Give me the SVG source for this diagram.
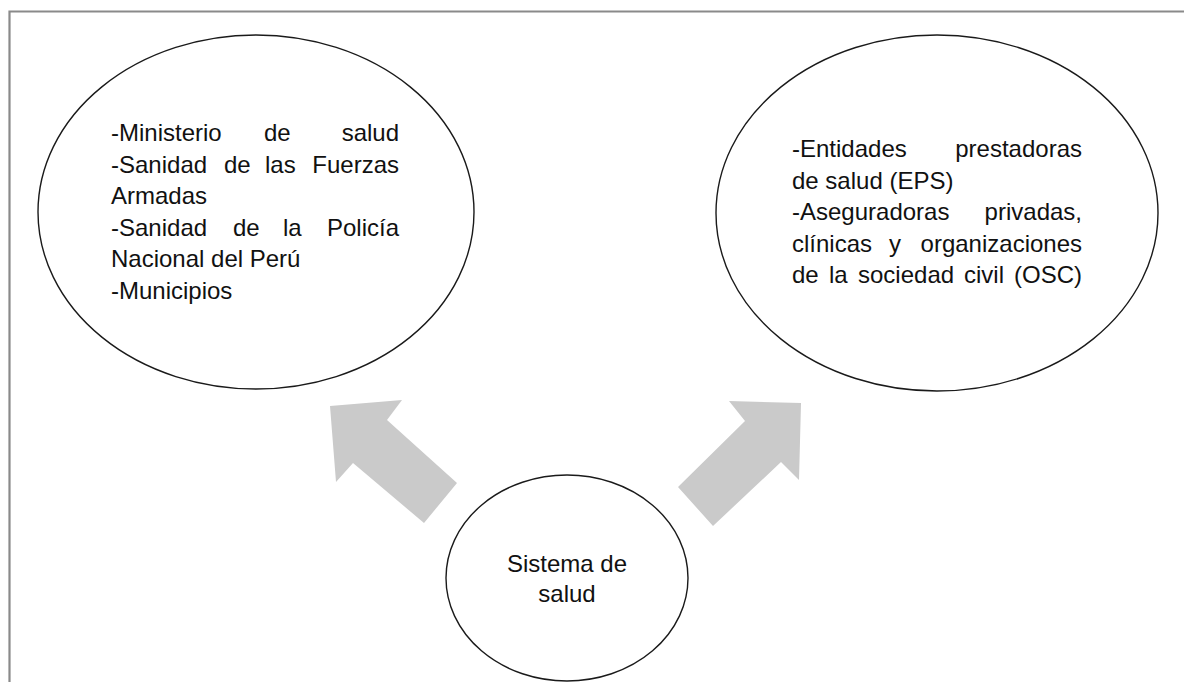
<svg xmlns="http://www.w3.org/2000/svg" width="1184" height="682" viewBox="0 0 1184 682">
<style>
.frame{fill:none;stroke:#8a8a8a;stroke-width:2.2}
.node{fill:#ffffff;stroke:#1a1a1a;stroke-width:1.4}
.arrow{fill:#cacaca;stroke:none}
.t{font-family:"Liberation Sans",Arial,sans-serif;font-size:24px;fill:#111111}
.c{text-anchor:middle}
.e{text-anchor:end}
</style>
<rect width="1184" height="682" fill="#ffffff"/>
<path class="frame" d="M9.5,682 L9.5,11.5 L1184,11.5"/>
<g id="connectors">
  <polygon class="arrow" points="330,406 402,400 387,420 457,483 424,523 353,463 336,482"/>
  <polygon class="arrow" points="801,403 799,480 781,462 713,526 678,487 745,421 729,401"/>
</g>
<g id="node-publico">
  <ellipse class="node" cx="256" cy="212" rx="218" ry="177"/>
  <text class="t" y="141"><tspan x="111">-Ministerio</tspan><tspan x="264">de</tspan><tspan x="399" class="e">salud</tspan></text>
  <text class="t" y="173"><tspan x="111">-Sanidad</tspan><tspan x="224">de</tspan><tspan x="265">las</tspan><tspan x="399" class="e">Fuerzas</tspan></text>
  <text class="t" x="111" y="204">Armadas</text>
  <text class="t" y="236"><tspan x="111">-Sanidad</tspan><tspan x="233">de</tspan><tspan x="283">la</tspan><tspan x="399" class="e">Policía</tspan></text>
  <text class="t" x="111" y="267">Nacional del Perú</text>
  <text class="t" x="111" y="299">-Municipios</text>
</g>
<g id="node-privado">
  <ellipse class="node" cx="937" cy="213" rx="221" ry="178"/>
  <text class="t" y="157"><tspan x="792">-Entidades</tspan><tspan x="1082" class="e">prestadoras</tspan></text>
  <text class="t" x="792" y="189">de salud (EPS)</text>
  <text class="t" y="220"><tspan x="792">-Aseguradoras</tspan><tspan x="1082" class="e">privadas,</tspan></text>
  <text class="t" y="252"><tspan x="792">clínicas</tspan><tspan x="889">y</tspan><tspan x="1082" class="e">organizaciones</tspan></text>
  <text class="t" y="283"><tspan x="792">de</tspan><tspan x="829">la</tspan><tspan x="858">sociedad</tspan><tspan x="964">civil</tspan><tspan x="1082" class="e">(OSC)</tspan></text>
</g>
<g id="node-sistema">
  <ellipse class="node" cx="567" cy="578" rx="121" ry="103"/>
  <text class="t c" x="567" y="572">Sistema de</text>
  <text class="t c" x="567" y="602">salud</text>
</g>
</svg>
